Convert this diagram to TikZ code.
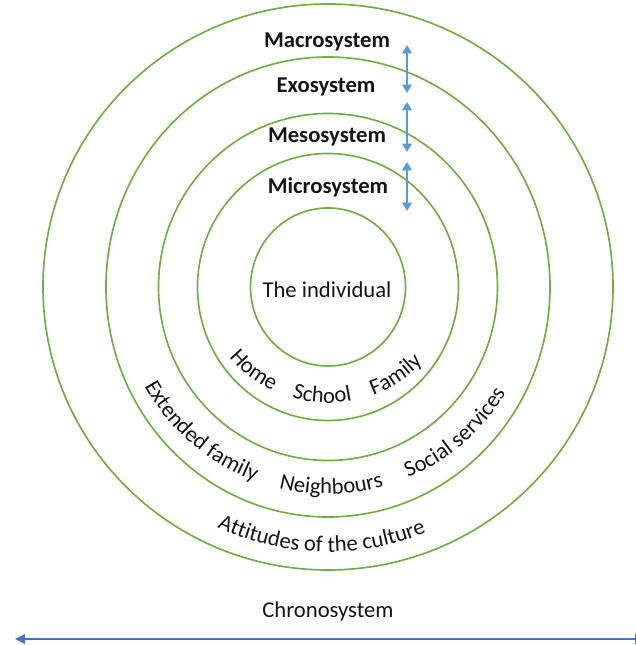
\documentclass[tikz,border=0pt]{standalone}
\usepackage{fontspec}
\setmainfont{Carlito}
\usetikzlibrary{arrows.meta,decorations.text}
\definecolor{ring}{HTML}{70AD47}
\definecolor{lblue}{HTML}{5B9BD5}
\definecolor{dblue}{HTML}{4472C4}
\definecolor{ink}{HTML}{151515}
\newcommand{\labfont}{\fontsize{12.9}{15}\selectfont}
\tikzset{
  ringline/.style={draw=ring, line width=0.95pt},
  syslab/.style={font=\labfont\bfseries, text=ink, anchor=base, inner sep=0pt},
  lab/.style={font=\labfont, text=ink, anchor=base, inner sep=0pt},
  linkarrow/.style={draw=lblue, line width=0.8pt,
    {Triangle[width=5.6pt,length=4.8pt]}-{Triangle[width=5.6pt,length=4.8pt]}},
  timearrow/.style={draw=dblue, line width=0.9pt,
    {Triangle[width=5.2pt,length=5.6pt]}-{Triangle[width=5.2pt,length=5.6pt]}},
  ringtext/.style={decorate, decoration={text along path, text align=center,
    text color=ink, text={|\labfont|#1}}}
}

\begin{document}
\begin{tikzpicture}[x=0.02cm, y=0.02cm]
  \useasboundingbox (-328,287) rectangle (307,-358);
  \coordinate (O) at (0,0);

  % the five systems
  \draw[ringline] (O) ellipse [x radius=77.5, y radius=79];
  \draw[ringline] (O) ellipse [x radius=130.5, y radius=133.5];
  \draw[ringline] (O) ellipse [x radius=169.5, y radius=173.5];
  \draw[ringline] (O) ellipse [x radius=222, y radius=230];
  \draw[ringline] (O) ellipse [x radius=285, y radius=283];

  \node[syslab] (macro) at (-1,239) {Macrosystem};
  \node[syslab] (exo)   at (-2,194) {Exosystem};
  \node[syslab] (meso)  at (-1,144) {Mesosystem};
  \node[syslab] (micro) at (0,93)   {Microsystem};
  \node[lab] (indiv) at (-1,-11) {The individual};

  % links between the layers
  \coordinate (a1) at (79,242);  \coordinate (a2) at (79,194);
  \coordinate (b1) at (79,185);  \coordinate (b2) at (79,135);
  \coordinate (c1) at (79,125);  \coordinate (c2) at (79,76);
  \draw[linkarrow] (a1) -- (a2);
  \draw[linkarrow] (b1) -- (b2);
  \draw[linkarrow] (c1) -- (c2);

  % words on the rings
  \path[ringtext=Home]   (200:124 and 116) arc[start angle=200, end angle=260, x radius=124, y radius=116];
  \path[ringtext=School] (237:118 and 116) arc[start angle=237, end angle=297, x radius=118, y radius=116];
  \path[ringtext=Family] (276:124 and 116) arc[start angle=276, end angle=336, x radius=124, y radius=116];

  \path[ringtext=Extended family] (192:209 and 207) arc[start angle=192, end angle=266, x radius=209, y radius=207];
  \path[ringtext=Neighbours]      (241:203 and 207) arc[start angle=241, end angle=301, x radius=203, y radius=207];
  \path[ringtext=Social services] (274:207 and 207) arc[start angle=274, end angle=348, x radius=207, y radius=207];

  \path[ringtext=Attitudes of the culture] (228:262 and 265) arc[start angle=228, end angle=309, x radius=262, y radius=265];

  % time axis
  \node[lab] (chrono) at (0,-330) {Chronosystem};
  \coordinate (t1) at (-313,-352);
  \coordinate (t2) at (317,-352);
  \draw[timearrow] (t1) -- (t2);
\end{tikzpicture}
\end{document}
